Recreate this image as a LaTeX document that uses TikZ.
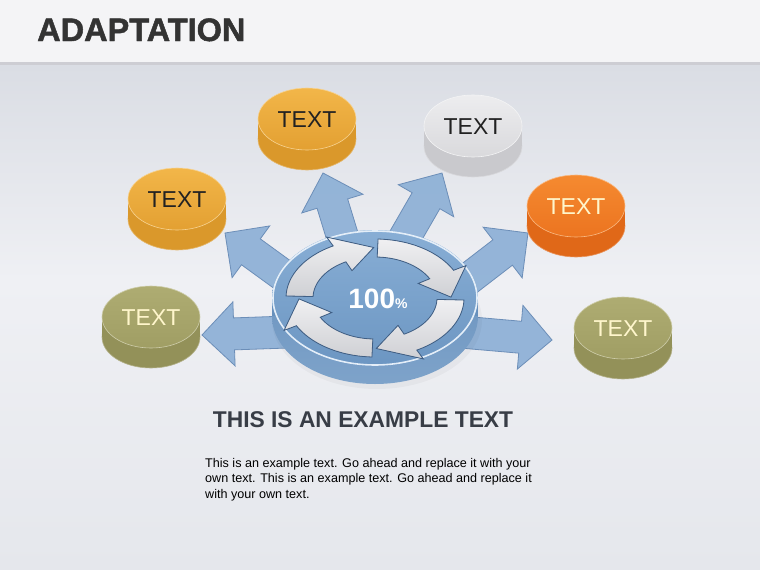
\documentclass[tikz,border=0pt]{standalone}
\usepackage{fontspec}
\setmainfont{Liberation Sans}
\newfontfamily\titlefont[FakeBold=1.5]{Liberation Sans Bold}
\definecolor{hdr}{HTML}{F4F4F6}
\definecolor{hdrline}{HTML}{CDCDD3}
\definecolor{bgA}{HTML}{DADDE4}
\definecolor{bgB}{HTML}{EFF0F4}
\definecolor{bgC}{HTML}{E5E7EC}
\definecolor{titlec}{HTML}{333333}
\definecolor{headc}{HTML}{383D46}
\definecolor{arrfill}{HTML}{8DB0D6}
\definecolor{arrdraw}{HTML}{6C8EB8}
\definecolor{disktopA}{HTML}{88AED5}
\definecolor{disktopB}{HTML}{6C96C2}
\definecolor{disksideA}{HTML}{6790BC}
\definecolor{disksideB}{HTML}{7EA3CA}
\definecolor{diskrim}{HTML}{E4EEF8}
\definecolor{ringA}{HTML}{F0F0F2}
\definecolor{ringB}{HTML}{CFD0D4}
\definecolor{ringline}{HTML}{3F5F86}
\definecolor{yelA}{HTML}{F2B649}
\definecolor{yelB}{HTML}{E3A032}
\definecolor{yelS}{HTML}{DA982B}
\definecolor{greyA}{HTML}{EDEDEF}
\definecolor{greyB}{HTML}{D9D9DC}
\definecolor{greyS}{HTML}{C9C9CD}
\definecolor{oraA}{HTML}{F58A30}
\definecolor{oraB}{HTML}{EC7420}
\definecolor{oraS}{HTML}{E06818}
\definecolor{oliA}{HTML}{AEAC72}
\definecolor{oliB}{HTML}{A09E64}
\definecolor{oliS}{HTML}{939159}
\definecolor{darktxt}{HTML}{222222}
\definecolor{lighttxt}{HTML}{FFF6CC}
\tikzset{
  blockarr/.style={fill=arrfill, draw=arrdraw, line width=0.8pt, fill opacity=0.92, line join=miter},
  ringarr/.style={top color=ringA, bottom color=ringB, draw=ringline, line width=0.8pt, line join=miter},
  pilltext/.style={font=\fontsize{23}{23}\selectfont, inner sep=0pt},
}
\newcommand\pill[8]{% name, x, y, topA, topB, side, text colour, text
  \fill[#6] (#2,#3+20) ellipse (49 and 31);
  \fill[#6] (#2-49,#3) rectangle (#2+49,#3+20);
  \draw[#6!70!white, line width=0.6pt] (#2,#3+20) ellipse (49 and 31);
  \fill[#6] (#2-48.7,#3) rectangle (#2+48.7,#3+20);
  \shade[top color=#4, bottom color=#5] (#2,#3) ellipse (49 and 31);
  \draw[#4!60!white, line width=0.6pt] (#2,#3) ellipse (49 and 31);
  \node[pilltext, text=#7] (#1) at (#2,#3+1) {#8};}
\newcommand\barrow[4]{% tip x, tip y, angle, length
  \begin{scope}[shift={(#1,#2)}, rotate=#3]
    \filldraw[blockarr] (0,0) -- (-32,32) -- (-32,16) -- (-#4,16) -- (-#4,-16) -- (-32,-16) -- (-32,-32) -- cycle;
  \end{scope}}
\newcommand\ringarrow[1]{% tail angle
  \pgfmathsetmacro\ta{#1}\pgfmathsetmacro\hb{#1-60}\pgfmathsetmacro\tp{#1-87}
  \filldraw[ringarr] plot[domain=\ta:\hb, samples=25] ({375+89*cos(\x)},{298-59*sin(\x)})
    -- ({375+103*cos(\hb)},{298-69*sin(\hb)})
    -- ({375+76*cos(\tp)},{298-50.5*sin(\tp)})
    -- ({375+49*cos(\hb)},{298-31*sin(\hb)})
    -- plot[domain=\hb:\ta, samples=25] ({375+62*cos(\x)},{298-41*sin(\x)}) -- cycle;}
\begin{document}
\begin{tikzpicture}[x=1pt,y=-1pt]
\useasboundingbox (0,0) rectangle (760,570);
% background
\fill[hdr] (0,0) rectangle (760,62);
\fill[hdrline] (0,62) rectangle (760,65);
\shade[top color=bgA, bottom color=bgB] (0,65) rectangle (760,280);
\shade[top color=bgB, bottom color=bgC] (0,280) rectangle (760,570);
\node[anchor=base west, inner sep=0pt, text=titlec, font=\fontsize{32.5}{32}\titlefont] (title) at (37,41) {ADAPTATION};
% block arrows
\barrow{225}{233}{144}{130}
\barrow{323}{173}{107}{110}
\barrow{442}{173}{60}{100}
\barrow{528}{233}{37.6}{110}
\barrow{552}{340}{-5}{130}
\barrow{202}{335}{-178}{130}
% central disk
\fill[black, opacity=0.03] (377,320) ellipse (105 and 69);
\shade[top color=disksideA, bottom color=disksideB] (375,316) ellipse (103 and 68);
\fill[disksideA] (272,298) rectangle (478,316);
\shade[top color=disktopA, bottom color=disktopB] (375,298) ellipse (103 and 68);
\draw[diskrim, line width=1.6pt] (375,298) ellipse (102 and 67);
\ringarrow{178}
\ringarrow{88}
\ringarrow{-2}
\ringarrow{-92}
\node[text=white, inner sep=0pt, font=\bfseries] (center) at (378,299) {\fontsize{28}{28}\selectfont 100{\fontsize{14}{14}\selectfont\%}};
% pills
\pill{p1}{151}{317}{oliA}{oliB}{oliS}{lighttxt}{TEXT}
\pill{p2}{177}{199}{yelA}{yelB}{yelS}{darktxt}{TEXT}
\pill{p3}{307}{119}{yelA}{yelB}{yelS}{darktxt}{TEXT}
\pill{p4}{473}{126}{greyA}{greyB}{greyS}{darktxt}{TEXT}
\pill{p5}{576}{206}{oraA}{oraB}{oraS}{lighttxt}{TEXT}
\pill{p6}{623}{328}{oliA}{oliB}{oliS}{lighttxt}{TEXT}
% texts
\node[anchor=base, inner sep=0pt, text=headc, font=\fontsize{22.8}{23}\selectfont\bfseries] (heading) at (363,427) {THIS IS AN EXAMPLE TEXT};
\node[anchor=north west, inner sep=0pt, align=left, text=black, font=\fontsize{12.6}{15.6}\selectfont] (body) at (205,458) {This is an example text. Go ahead and replace it with your\\own text. This is an example text. Go ahead and replace it\\with your own text.};
\end{tikzpicture}
\end{document}
